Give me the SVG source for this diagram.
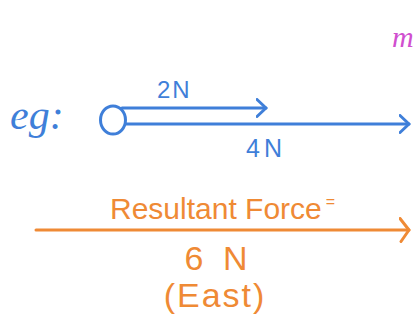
<svg xmlns="http://www.w3.org/2000/svg" width="413" height="320" viewBox="0 0 413 320">
  <style>
    .blue { fill: #3f7fd9; }
    .orange { fill: #ef8a35; }
    .bl { stroke: #3f7fd9; stroke-width: 3; fill: none; stroke-linecap: round; }
    .or { stroke: #ef8a35; stroke-width: 3; fill: none; stroke-linecap: round; }
    .hand { font-family: "Liberation Sans", "DejaVu Sans", sans-serif; }
    .cur { font-family: "Liberation Serif", "DejaVu Serif", serif; font-style: italic; }
  </style>
  <defs>
    <marker id="headB" viewBox="0 0 12 20" refX="10.5" refY="10" markerWidth="12" markerHeight="20" markerUnits="userSpaceOnUse" orient="auto">
      <path d="M1.5,1.5 L10.5,10 L1.5,18.5" fill="none" stroke="#3f7fd9" stroke-width="3" stroke-linecap="round" stroke-linejoin="round"/>
    </marker>
    <marker id="headO" viewBox="0 0 12 26" refX="10.5" refY="13" markerWidth="12" markerHeight="26" markerUnits="userSpaceOnUse" orient="auto">
      <path d="M1.5,1.5 L10.5,13 L2.5,24.5" fill="none" stroke="#ef8a35" stroke-width="3" stroke-linecap="round" stroke-linejoin="round"/>
    </marker>
  </defs>
  <rect width="413" height="320" fill="#ffffff"/>

  <g id="label-eg">
    <text class="blue cur" x="10" y="129" font-size="42">eg:</text>
  </g>

  <g id="object">
    <ellipse cx="113" cy="120" rx="12.5" ry="14" class="bl"/>
  </g>

  <g id="connectors">
    <line class="bl" x1="122" y1="108" x2="266" y2="108" marker-end="url(#headB)"/>
    <line class="bl" x1="126" y1="124" x2="409" y2="124" marker-end="url(#headB)"/>
    <line class="or" x1="36" y1="230" x2="409" y2="230" marker-end="url(#headO)"/>
  </g>

  <g id="label-2N">
    <text class="blue hand" x="157" y="98" font-size="24" letter-spacing="2">2N</text>
  </g>
  <g id="label-4N">
    <text class="blue hand" x="246" y="157" font-size="25" letter-spacing="4">4N</text>
  </g>

  <g id="label-resultant">
    <text class="orange hand" x="110" y="219" font-size="30">Resultant Force<tspan font-size="16" dx="4" dy="-12">=</tspan></text>
  </g>
  <g id="label-6N">
    <text class="orange hand" x="216" y="270" font-size="34" text-anchor="middle" word-spacing="10">6 N</text>
  </g>
  <g id="label-east">
    <text class="orange hand" x="215" y="307" font-size="34" text-anchor="middle" letter-spacing="2">(East)</text>
  </g>

  <g id="label-m">
    <text class="cur" x="392" y="47" font-size="30" fill="#d04fcf">m</text>
  </g>
</svg>
